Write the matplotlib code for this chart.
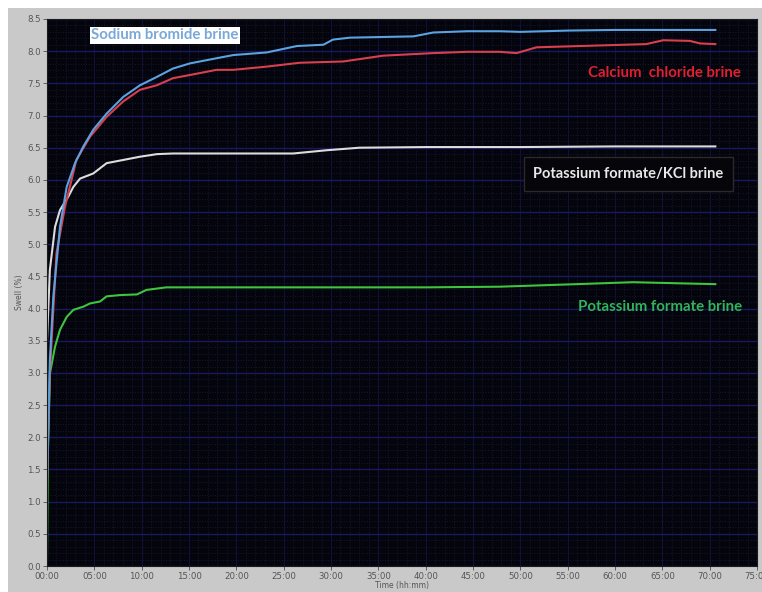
import numpy as np
import matplotlib.pyplot as plt
from matplotlib.ticker import MultipleLocator, FuncFormatter
from matplotlib.patches import Rectangle

# swell curves, time in hours, swell in %
nabr_t = [0, 0.3, 0.67, 1.37, 2.08, 2.96, 3.84, 4.89, 6.3, 8.06, 9.82, 11.6, 13.3, 15.1,
          17.9, 19.7, 23.2, 26.4, 29.2, 30.2, 32.0, 38.7, 40.8, 44.4, 47.8, 50.0, 55.0,
          60.0, 65.0, 70.6]
nabr_v = [1.3, 3.2, 4.19, 5.27, 5.89, 6.26, 6.52, 6.78, 7.03, 7.29, 7.47, 7.60, 7.73, 7.81,
          7.89, 7.94, 7.98, 8.08, 8.10, 8.18, 8.21, 8.23, 8.29, 8.31, 8.31, 8.30, 8.32,
          8.33, 8.33, 8.33]

cacl_t = [0, 0.3, 1.0, 1.9, 3.1, 4.54, 6.3, 8.06, 9.82, 11.6, 13.3, 15.1, 17.9, 19.7,
          23.2, 26.7, 31.3, 35.5, 40.8, 44.4, 47.8, 49.6, 51.7, 56.3, 63.3, 65.1, 67.9,
          69.0, 70.6]
cacl_v = [1.3, 3.0, 4.86, 5.58, 6.31, 6.67, 6.98, 7.22, 7.40, 7.47, 7.58, 7.63, 7.71, 7.71,
          7.76, 7.82, 7.84, 7.93, 7.97, 7.99, 7.99, 7.97, 8.06, 8.08, 8.11, 8.17, 8.16,
          8.12, 8.11]

kfkcl_t = [0, 0.3, 0.85, 1.37, 2.25, 2.78, 3.49, 4.89, 6.3, 8.06, 9.82, 11.6, 13.3, 26.0,
           29.5, 33.0, 40.0, 50.0, 60.0, 70.6]
kfkcl_v = [3.5, 4.6, 5.27, 5.53, 5.74, 5.89, 6.02, 6.10, 6.26, 6.31, 6.36, 6.40, 6.41, 6.41,
           6.46, 6.50, 6.51, 6.51, 6.52, 6.52]

kf_t = [0, 0.1, 0.32, 0.85, 1.37, 2.08, 2.78, 3.84, 4.54, 5.6, 6.3, 7.7, 9.5, 10.5, 12.6,
        20.4, 30.0, 40.0, 47.8, 56.0, 61.9, 67.6, 70.6]
kf_v = [0.1, 1.8, 3.0, 3.41, 3.67, 3.87, 3.98, 4.03, 4.08, 4.11, 4.19, 4.21, 4.22, 4.29, 4.33,
        4.33, 4.33, 4.33, 4.34, 4.38, 4.41, 4.39, 4.38]

fig = plt.figure(figsize=(7.62, 5.92), dpi=100)
fig.patch.set_facecolor('#c9c9c9')
# white strips along the top and left edge
fig.patches.append(Rectangle((0, 1 - 8/592), 1, 8/592, transform=fig.transFigure,
                             facecolor='white', edgecolor='none', zorder=-1))
fig.patches.append(Rectangle((0, 0), 8/762, 1, transform=fig.transFigure,
                             facecolor='white', edgecolor='none', zorder=-1))

ax = fig.add_axes([47/762, 26/592, 710/762, 547/592])
ax.set_facecolor('#04040c')

ax.plot(kfkcl_t, kfkcl_v, color='#dcdcdc', lw=1.5)
ax.plot(kf_t, kf_v, color='#3ec43e', lw=1.5)
ax.plot(cacl_t, cacl_v, color='#d8404e', lw=1.5)
ax.plot(nabr_t, nabr_v, color='#5aa2e0', lw=1.5)

ax.set_xlim(0, 75)
ax.set_ylim(0, 8.5)
ax.xaxis.set_major_locator(MultipleLocator(5))
ax.xaxis.set_minor_locator(MultipleLocator(1))
ax.yaxis.set_major_locator(MultipleLocator(0.5))
ax.yaxis.set_minor_locator(MultipleLocator(0.1))
ax.xaxis.set_major_formatter(FuncFormatter(lambda v, p: '%02d:00' % int(round(v))))
ax.yaxis.set_major_formatter(FuncFormatter(lambda v, p: '%.1f' % v))

ax.grid(which='minor', color='#17172e', lw=0.7, ls=':')
ax.grid(which='major', axis='y', color='#191960', lw=1.0)
ax.grid(which='major', axis='x', color='#10103a', lw=0.8)
ax.set_axisbelow(True)

ax.tick_params(which='major', length=3, width=0.7, color='#606060',
               labelsize=6.2, labelcolor='#555555', pad=1.5)
ax.tick_params(which='minor', length=0)
for s in ax.spines.values():
    s.set_color('#1a1a1a')

ax.set_xlabel('Time (hh:mm)', fontsize=5.5, color='#555555', labelpad=0)
ax.set_ylabel('Swell (%)', fontsize=5.5, color='#555555', labelpad=2)

# curve labels
lab = dict(transform=ax.transAxes, fontsize=10.8, fontweight='bold', family='Lato',
           ha='center', va='center')
ax.text(0.166, 0.970, 'Sodium bromide brine', color='#7aa8d8',
        bbox=dict(facecolor='white', edgecolor='none', pad=1.2), **lab)
ax.text(0.869, 0.902, 'Calcium  chloride brine', color='#e02030', **lab)
ax.text(0.819, 0.717, 'Potassium formate/KCl brine', color='#e8e8e8', fontsize=10.5,
        bbox=dict(facecolor='#05050a', edgecolor='#2a2a2a', pad=7),
        **{k: v for k, v in lab.items() if k != 'fontsize'})
ax.text(0.863, 0.474, 'Potassium formate brine', color='#2fb55a', **lab)

fig.savefig('out.png', dpi=100, facecolor=fig.get_facecolor())
